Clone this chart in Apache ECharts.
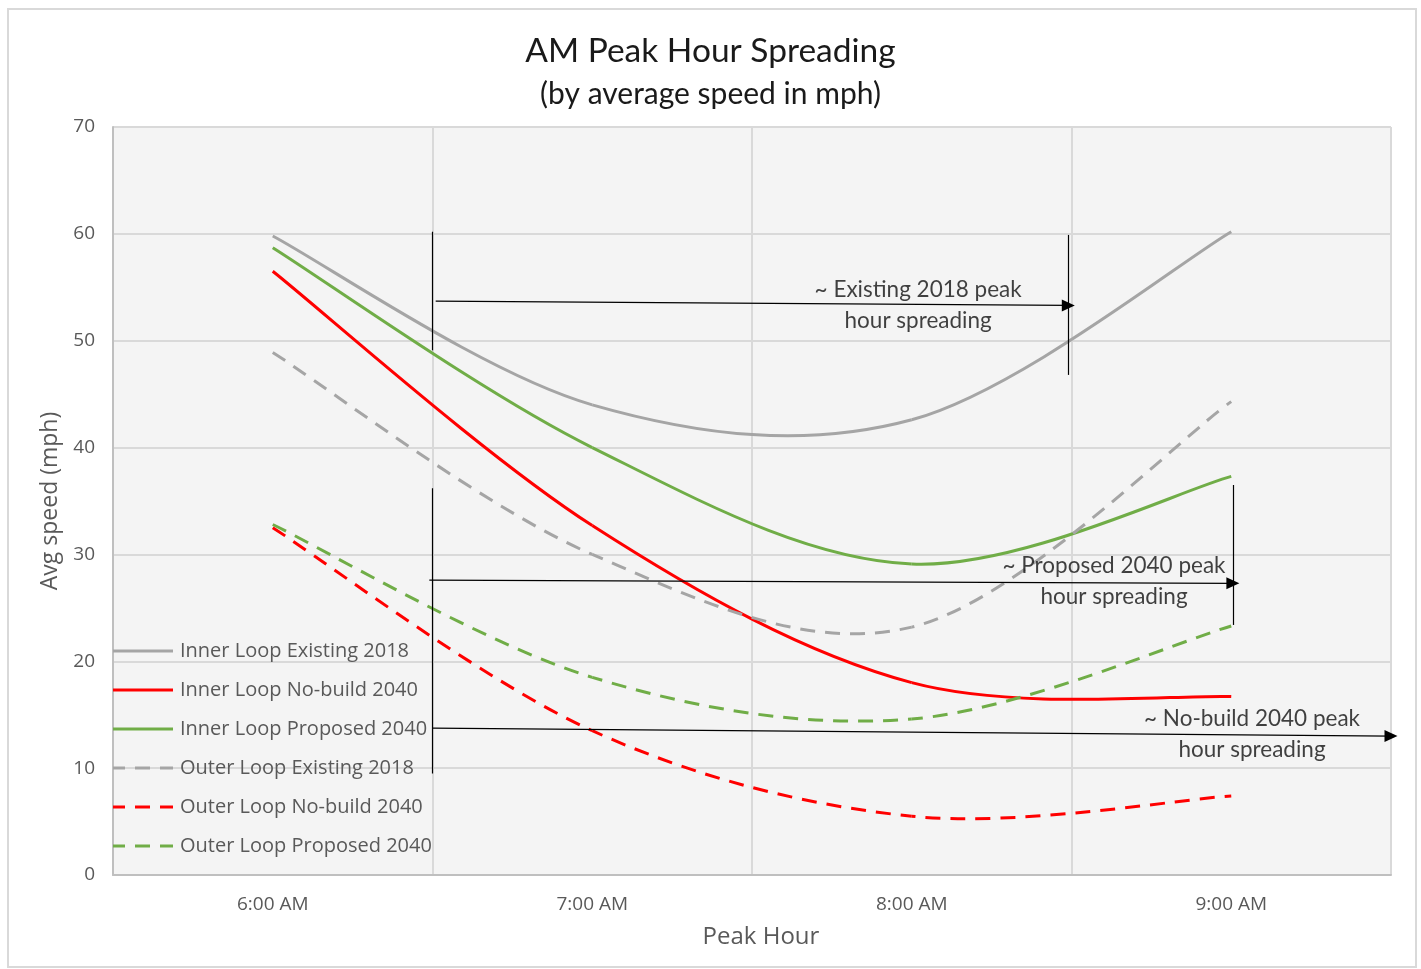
<!DOCTYPE html>
<html>
<head>
<meta charset="utf-8">
<script src="https://cdn.jsdelivr.net/npm/echarts@6/dist/echarts.min.js"></script>
<style>
html,body{margin:0;padding:0;background:#fff;}
#chart{width:1421px;height:969px;}
</style>
</head>
<body>
<div id="chart"></div>
<script>
// ---- data ----
const categories = ['6:00 AM', '7:00 AM', '8:00 AM', '9:00 AM'];
const yTicks = [0, 10, 20, 30, 40, 50, 60, 70];

const innerExisting2018 = [59.8, 44.0, 42.6, 60.2];
const innerNoBuild2040  = [56.5, 32.7, 18.0, 16.7];
const innerProposed2040 = [58.7, 40.0, 29.1, 37.3];
const outerExisting2018 = [48.9, 30.0, 23.2, 44.3];
const outerNoBuild2040  = [32.5, 13.5, 5.5, 7.4];
const outerProposed2040 = [32.8, 18.5, 14.6, 23.3];

const seriesNames = [
  'Inner Loop Existing 2018', 'Inner Loop No-build 2040', 'Inner Loop Proposed 2040',
  'Outer Loop Existing 2018', 'Outer Loop No-build 2040', 'Outer Loop Proposed 2040'
];

// annotation positions in data units (x: hour index, y: mph)
const annotationTexts = [
  '~ Existing 2018 peak\nhour spreading',
  '~ Proposed 2040 peak\nhour spreading',
  '~ No-build 2040 peak\nhour spreading'
];
const annotationTextPos = [[2.02, 53.3], [2.633, 27.45], [3.065, 13.15]];
// [x1, y1, x2, y2, arrow]
const annotationLines = [
  [0.5, 60.2, 0.5, 49.1, false],
  [2.49, 59.9, 2.49, 46.8, false],
  [0.51, 53.7, 2.49, 53.3, true],
  [0.5, 36.2, 0.5, 9.5, false],
  [3.005, 36.5, 3.005, 23.4, false],
  [0.49, 27.6, 3.005, 27.3, true],
  [0.5, 13.75, 3.5, 13.0, true]
];

const GREY = '#a5a5a5', RED = '#ff0000', GREEN = '#70ad47';
const seriesData = [innerExisting2018, innerNoBuild2040, innerProposed2040, outerExisting2018, outerNoBuild2040, outerProposed2040];
const seriesColors = [GREY, RED, GREEN, GREY, RED, GREEN];
const seriesDashed = [false, false, false, true, true, true];
const DASH = [15, 10];

const ICON_SOLID = 'path://M0,0h60v3h-60z';
const ICON_DASHED = 'path://M0,0h12v3h-12zM22,0h15v3h-15zM47,0h13v3h-13z';

const chart = echarts.init(document.getElementById('chart'), null, {renderer: 'canvas'});

// Excel-style smoothed line (cubic Bezier through the data points, control points from neighbours)
function bezLen(p1, c1, c2, p2) {
  let len = 0, prev = p1;
  for (let k = 1; k <= 40; k++) {
    const t = k / 40, u = 1 - t;
    const x = u*u*u*p1[0] + 3*u*u*t*c1[0] + 3*u*t*t*c2[0] + t*t*t*p2[0];
    const y = u*u*u*p1[1] + 3*u*u*t*c1[1] + 3*u*t*t*c2[1] + t*t*t*p2[1];
    len += Math.hypot(x - prev[0], y - prev[1]);
    prev = [x, y];
  }
  return len;
}
function makeRenderItem(values, color, dashed) {
  return function (params, api) {
    if (params.dataIndex !== 0) return null;
    const pts = values.map((v, i) => api.coord([i, v]));
    const n = pts.length;
    const children = [];
    let offset = 0;
    for (let i = 0; i < n - 1; i++) {
      const p0 = pts[Math.max(i - 1, 0)], p1 = pts[i], p2 = pts[i + 1], p3 = pts[Math.min(i + 2, n - 1)];
      const c1 = [p1[0] + (p2[0] - p0[0]) / 6, p1[1] + (p2[1] - p0[1]) / 6];
      const c2 = [p2[0] - (p3[0] - p1[0]) / 6, p2[1] - (p3[1] - p1[1]) / 6];
      children.push({
        type: 'bezierCurve',
        shape: {x1: p1[0], y1: p1[1], x2: p2[0], y2: p2[1], cpx1: c1[0], cpy1: c1[1], cpx2: c2[0], cpy2: c2[1]},
        style: {
          stroke: color, fill: null, lineWidth: 3, lineCap: 'butt',
          lineDash: dashed ? DASH : null, lineDashOffset: dashed ? offset : 0
        },
        silent: true
      });
      offset += bezLen(p1, c1, c2, p2);
    }
    return {type: 'group', children: children};
  };
}

const lineSeries = seriesNames.map((name, i) => ({
  name: name,
  type: 'custom',
  xAxisIndex: 0,
  yAxisIndex: 0,
  data: seriesData[i].map((v, k) => [k, v]),
  encode: {x: 0, y: 1},
  itemStyle: {color: seriesColors[i]},
  renderItem: makeRenderItem(seriesData[i], seriesColors[i], seriesDashed[i]),
  z: 3
}));

const markLineData = annotationLines.map(l => [
  {coord: [l[0], l[1]], symbol: 'none'},
  {coord: [l[2], l[3]], symbol: l[4] ? 'triangle' : 'none', symbolSize: [12, 13], symbolRotate: -90}
]);

const annotationSeries = {
  name: 'annotations',
  type: 'scatter',
  xAxisIndex: 1,
  yAxisIndex: 0,
  symbolSize: 0,
  silent: true,
  data: annotationTextPos.map((p, i) => ({value: p, label: {formatter: annotationTexts[i]}})),
  label: {
    show: true,
    position: 'inside',
    color: '#111',
    fontFamily: 'Lato',
    fontSize: 22.5,
    lineHeight: 31,
    align: 'center'
  },
  markLine: {
    silent: true,
    symbol: ['none', 'none'],
    label: {show: false},
    lineStyle: {color: '#000', width: 1.2, type: 'solid'},
    emphasis: {disabled: true},
    data: markLineData
  },
  z: 5
};

const option = {
  animation: false,
  backgroundColor: '#ffffff',
  title: [
    {text: 'AM Peak Hour Spreading', left: 'center', top: 29,
     textStyle: {fontFamily: 'Lato', fontSize: 33.5, fontWeight: 'normal', color: '#1a1a1a'}},
    {text: '(by average speed in mph)', left: 'center', top: 74,
     textStyle: {fontFamily: 'Lato', fontSize: 30, fontWeight: 'normal', color: '#1a1a1a'}}
  ],
  graphic: [{
    type: 'rect', silent: true, z: -10,
    shape: {x: 8, y: 9, width: 1408, height: 958},
    style: {fill: 'none', stroke: '#d9d9d9', lineWidth: 2}
  }],
  legend: {
    data: seriesNames.map((n, i) => ({name: n, icon: seriesDashed[i] ? ICON_DASHED : ICON_SOLID})),
    orient: 'vertical',
    left: 113,
    top: 640,
    padding: 0,
    itemWidth: 60,
    itemHeight: 3,
    itemGap: 17,
    textStyle: {fontFamily: 'Open Sans', fontSize: 20, lineHeight: 22, color: '#595959', padding: [0, 0, 0, 2]}
  },
  grid: {
    left: 113, right: 30, top: 127, bottom: 94,
    show: true, backgroundColor: '#f4f4f4', borderWidth: 0
  },
  xAxis: [{
    type: 'category',
    data: categories,
    boundaryGap: true,
    name: 'Peak Hour',
    nameLocation: 'middle',
    nameGap: 50,
    nameTextStyle: {fontFamily: 'Open Sans', fontSize: 24, color: '#595959', padding: [0, 0, 0, 18]},
    axisLine: {show: true, lineStyle: {color: '#bfbfbf', width: 2}},
    axisTick: {show: false},
    axisLabel: {fontFamily: 'Open Sans', fontSize: 19, color: '#595959', margin: 20},
    splitLine: {show: true, interval: 0, lineStyle: {color: '#d9d9d9', width: 2}}
  }, {
    type: 'value',
    min: -0.5,
    max: 3.5,
    show: false,
    splitLine: {show: false}
  }],
  yAxis: [{
    type: 'value',
    min: yTicks[0],
    max: yTicks[yTicks.length - 1],
    interval: 10,
    name: 'Avg speed (mph)',
    nameLocation: 'middle',
    nameGap: 48,
    nameRotate: 90,
    nameTextStyle: {fontFamily: 'Open Sans', fontSize: 23, color: '#595959'},
    axisLine: {show: true, onZero: false, lineStyle: {color: '#bfbfbf', width: 2}},
    axisTick: {show: false},
    axisLabel: {fontFamily: 'Open Sans', fontSize: 19, color: '#595959', margin: 18, padding: [3, 0, 0, 0]},
    splitLine: {show: true, lineStyle: {color: '#d9d9d9', width: 2}}
  }],
  series: lineSeries.concat([annotationSeries])
};

chart.setOption(option);
</script>
</body>
</html>
